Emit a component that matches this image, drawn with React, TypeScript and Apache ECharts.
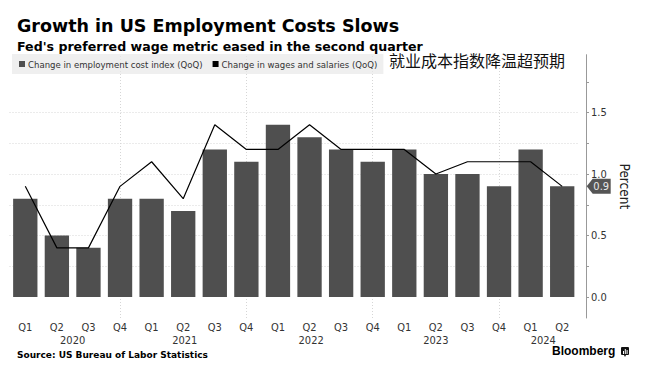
import React, { useEffect, useRef } from "react";
import * as echarts from "echarts";

const quarterLabels = ["Q1","Q2","Q3","Q4","Q1","Q2","Q3","Q4","Q1","Q2","Q3","Q4","Q1","Q2","Q3","Q4","Q1","Q2"];
const quarterYears = [2020,2020,2020,2020,2021,2021,2021,2021,2022,2022,2022,2022,2023,2023,2023,2023,2024,2024];
const eciChange = [0.8,0.5,0.4,0.8,0.8,0.7,1.2,1.1,1.4,1.3,1.2,1.1,1.2,1.0,1.0,0.9,1.2,0.9];
const wagesChange = [0.9,0.4,0.4,0.9,1.1,0.8,1.4,1.2,1.2,1.4,1.2,1.2,1.2,1.0,1.1,1.1,1.1,0.9];
const yearLabels = ["2020","2021","2022","2023","2024"];
const yearLabelAt = [1.5, 5.05, 9.05, 13, 16.4];
const yearDividerAt = [3, 7, 11, 15];
const yTickValues = [0, 0.25, 0.5, 0.75, 1, 1.25, 1.5, 1.75];
const yLabelValues = [0, 0.5, 1, 1.5];

const COND = "'DejaVu Sans Condensed', 'DejaVu Sans', sans-serif";
const BOLD = "'DejaVu Sans', sans-serif";

const W = 658;
const GRID_LEFT = 9.5;
const GRID_RIGHT = 80;

export default function App() {
  const ref = useRef<HTMLDivElement>(null);
  useEffect(() => {
    if (!ref.current) return;
    const chart = echarts.init(ref.current, undefined, { renderer: "svg" });
    const categories = quarterLabels.map((q, i) => `${q} ${quarterYears[i]}`);
    const lastIdx = eciChange.length - 1;
    const band = (W - GRID_LEFT - GRID_RIGHT) / categories.length;

    // year label placement: attach to the category at floor(pos), shift by padding
    const yearAtIndex: Record<number, number> = {};
    const rich: any = {
      q: { fontFamily: COND, fontSize: 11, color: "#333", lineHeight: 13 },
    };
    yearLabelAt.forEach((pos, k) => {
      const idx = Math.floor(pos);
      yearAtIndex[idx] = k;
      const shift = (pos - idx) * band;
      rich["y" + k] = {
        fontFamily: COND, fontSize: 11, color: "#333", lineHeight: 13,
        padding: [0, 0, 0, shift * 2],
      };
    });

    const option: any = {
      animation: false,
      backgroundColor: "#ffffff",
      title: [
        {
          text: "Growth in US Employment Costs Slows",
          left: 12, top: 12,
          textStyle: { fontFamily: BOLD, fontWeight: "bold", fontSize: 17.5, color: "#000" },
        },
        {
          text: "Fed's preferred wage metric eased in the second quarter",
          left: 12, top: 35,
          textStyle: { fontFamily: BOLD, fontWeight: "bold", fontSize: 12.6, color: "#000" },
        },
        {
          text: "就业成本指数降温超预期",
          left: 384, top: 47,
          textStyle: { fontFamily: "'Noto Sans CJK SC', sans-serif", fontWeight: "normal", fontSize: 16, color: "#111" },
        },
        {
          text: "Source: US Bureau of Labor Statistics",
          left: 12, top: 345,
          textStyle: { fontFamily: BOLD, fontWeight: "bold", fontSize: 9, color: "#000" },
        },
      ],
      legend: {
        left: 12, top: 54,
        backgroundColor: "rgba(232,232,232,0.7)",
        padding: [5, 6, 5, 7],
        itemWidth: 6, itemHeight: 6, itemGap: 10,
        icon: "rect",
        textStyle: { fontFamily: COND, fontSize: 9.5, color: "#333", padding: [0, 0, 0, -2] },
        data: ["Change in employment cost index (QoQ)", "Change in wages and salaries (QoQ)"],
      },
      grid: { left: GRID_LEFT, right: GRID_RIGHT, top: 54.7, bottom: 63 },
      xAxis: {
        type: "category",
        data: categories,
        boundaryGap: true,
        axisLine: { show: false },
        axisTick: { show: false },
        splitLine: { show: false },
        axisLabel: {
          interval: 0, margin: 2.5,
          fontFamily: COND, fontSize: 11, color: "#333",
          rich,
          formatter: (v: string, i: number) => {
            const q = v.split(" ")[0];
            const k = yearAtIndex[i];
            if (k === undefined) return `{q|${q}}`;
            return `{q|${q}}\n{y${k}|${yearLabels[k]}}`;
          },
        },
      },
      yAxis: {
        type: "value",
        position: "right",
        offset: 8,
        min: -0.17, max: 1.97,
        minInterval: 0.5, maxInterval: 0.5,
        name: "Percent",
        nameLocation: "middle",
        nameRotate: -90,
        nameGap: 30,
        nameTextStyle: { fontFamily: COND, fontSize: 13.5, color: "#222" },
        axisLine: { show: true, lineStyle: { color: "#999", width: 1 } },
        axisTick: { show: true, customValues: yTickValues, length: 3, inside: false, lineStyle: { color: "#999" } },
        axisLabel: {
          customValues: yLabelValues,
          margin: 5,
          fontFamily: COND, fontSize: 11, color: "#333",
          formatter: (v: number) => v.toFixed(1),
        },
        splitLine: {
          show: true, showMinLine: false, showMaxLine: false,
          lineStyle: { color: "#d6d6d6", type: [1, 2], width: 1 },
        },
      },
      series: [
        {
          name: "Change in employment cost index (QoQ)",
          type: "bar",
          data: eciChange,
          barCategoryGap: "23%",
          itemStyle: { color: "#4f4f4f" },
          z: 2,
          markPoint: {
            symbol: "path://M0 7.5L6 0H24V15H6Z",
            symbolSize: [24, 15],
            symbolOffset: [36.5, 0],
            itemStyle: { color: "#555" },
            label: {
              show: true, position: "inside", offset: [2.5, 0],
              color: "#e8e8e8", fontFamily: COND, fontSize: 11,
              formatter: () => eciChange[lastIdx].toFixed(1),
            },
            data: [{ coord: [lastIdx, eciChange[lastIdx]], value: eciChange[lastIdx] }],
          },
        },
        {
          name: "Change in wages and salaries (QoQ)",
          type: "line",
          data: wagesChange,
          symbol: "none",
          lineStyle: { color: "#000", width: 1.2 },
          itemStyle: { color: "#000" },
          z: 3,
        },
        {
          name: "dividers",
          type: "line",
          data: [],
          z: 0,
          markLine: {
            z: 0,
            silent: true,
            symbol: ["none", "none"],
            label: { show: false },
            lineStyle: { color: "#d6d6d6", type: [1, 2], width: 1 },
            data: yearDividerAt.map((x) => ({ xAxis: categories[x] })),
          },
        },
      ],
      graphic: [
        {
          type: "text", left: 552, top: 345,
          style: { text: "Bloomberg", font: "bold 12px 'Liberation Sans', Arial, sans-serif", fill: "#000" },
        },
        {
          type: "group", left: 621, top: 347,
          children: [
            { type: "rect", shape: { x: 0, y: 0, width: 8, height: 8, r: 1 }, style: { fill: "#111" } },
            { type: "polygon", shape: { points: [[3, 8], [5, 8], [4, 10]] }, style: { fill: "#111" } },
            { type: "rect", shape: { x: 2, y: 4, width: 1, height: 3 }, style: { fill: "#fff" } },
            { type: "rect", shape: { x: 3.8, y: 2, width: 1, height: 5 }, style: { fill: "#fff" } },
            { type: "rect", shape: { x: 5.6, y: 3, width: 1, height: 4 }, style: { fill: "#fff" } },
          ],
        },
      ],
    };
    chart.setOption(option);
    return () => chart.dispose();
  }, []);
  return (
    <div
      ref={ref}
      style={{ position: "fixed", left: 0, top: 0, width: W, height: 381, background: "#fff" }}
    />
  );
}
